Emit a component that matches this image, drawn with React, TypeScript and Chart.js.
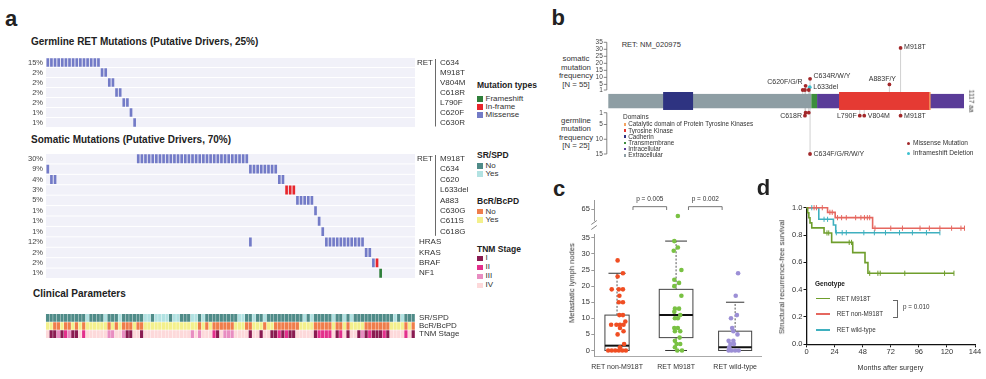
import React, { useEffect, useRef } from "react";
import { Chart, registerables } from "chart.js";

Chart.register(...registerables);
const FONT = "'Liberation Sans', Arial, Helvetica, sans-serif";
Chart.defaults.font.family = FONT;
Chart.defaults.color = "#333";

/* ===================== Panel a : oncoprint data ===================== */
const sampleIds: string[] = Array.from({ length: 102 }, (_, i) => `P${i + 1}`);

const germlineGenes = ["RET", "", "", "", "", "", ""];
const germlineMutations = ["C634", "M918T", "V804M", "C618R", "L790F", "C620F", "C630R"];
const germlineFrequency = ["15%", "2%", "2%", "2%", "2%", "1%", "1%"];
const germlineSamples = [
  [0, 1, 2, 3, 4, 5, 6, 7, 8, 9, 10, 11, 12, 13, 14],
  [15, 16],
  [17, 18],
  [19, 20],
  [21, 22],
  [23],
  [24],
];
const germlineRowType = ["Missense", "Missense", "Missense", "Missense", "Missense", "Missense", "Missense"];

const somaticGenes = ["RET", "", "", "", "", "", "", "", "HRAS", "KRAS", "BRAF", "NF1"];
const somaticMutations = ["M918T", "C634", "C620", "L633del", "A883", "C630G", "C611S", "C618G", "", "", "", ""];
const somaticFrequency = ["30%", "9%", "4%", "3%", "5%", "1%", "1%", "1%", "12%", "2%", "2%", "1%"];
const somaticSamples = [
  [25, 26, 27, 28, 29, 30, 31, 32, 33, 34, 35, 36, 37, 38, 39, 40, 41, 42, 43, 44, 45, 46, 47, 48, 49, 50, 51, 52, 53, 54, 55],
  [0, 56, 57, 58, 59, 60, 61, 62, 63],
  [1, 2, 64, 65],
  [66, 67, 68],
  [69, 70, 71, 72, 73],
  [74],
  [75],
  [76],
  [56, 77, 78, 79, 80, 81, 82, 83, 84, 85, 86, 87],
  [88, 89],
  [90, 91],
  [92],
];
const somaticRowType = ["Missense", "Missense", "Missense", "In-frame", "Missense", "Missense", "Missense", "Missense", "Missense", "Missense", "Missense", "Frameshift"];
const somaticTypeOverrides = [{ row: 10, sample: 91, type: "In-frame" }];

const clinicalTracks = ["SR/SPD", "BcR/BcPD", "TNM Stage"];
const N = "No", Y = "Yes";
const srSpd = [
  N, N, N, N, N, N, N, N, N, N,
  N, Y, N, N, N, N, Y, N, N, N,
  Y, N, N, N, N, N, N, Y, Y, N,
  Y, Y, Y, Y, N, Y, Y, N, N, N,
  Y, Y, N, Y, N, N, N, N, N, N,
  N, N, N, Y, Y, N, N, Y, N, N,
  Y, N, N, N, N, N, N, N, N, N,
  N, Y, N, Y, N, N, N, N, N, Y,
  N, N, Y, N, Y, N, N, N, N, N,
  N, N, N, N, N, N, Y, N, Y, N,
  N, N,
];
const bcrBcpd = [
  Y, Y, N, N, Y, N, N, Y, N, Y,
  N, Y, Y, Y, Y, Y, Y, N, Y, N,
  Y, N, N, N, Y, N, N, Y, Y, Y,
  Y, Y, Y, Y, Y, Y, Y, Y, Y, Y,
  Y, Y, N, Y, N, Y, N, N, N, N,
  N, N, Y, Y, Y, N, N, Y, Y, Y,
  N, Y, Y, N, N, N, N, N, N, N,
  Y, Y, Y, Y, N, N, N, N, N, Y,
  N, N, Y, N, Y, Y, Y, Y, N, N,
  N, N, N, N, N, Y, Y, Y, Y, N,
  Y, N,
];
const tnmStage = [
  "IV", "I", "I", "III", "I", "II", "III", "I", "I", "IV",
  "II", "IV", "IV", "IV", "IV", "IV", "IV", "III", "III", "IV",
  "IV", "III", "I", "I", "IV", "IV", "I", "IV", "IV", "IV",
  "IV", "IV", "IV", "IV", "IV", "IV", "IV", "IV", "IV", "IV",
  "III", "IV", "III", "IV", "IV", "IV", "II", "I", "IV", "III",
  "III", "III", "IV", "IV", "IV", "IV", "I", "IV", "IV", "I",
  "IV", "IV", "I", "I", "II", "I", "II", "I", "I", "IV",
  "IV", "IV", "IV", "IV", "I", "II", "II", "II", "II", "IV",
  "I", "II", "IV", "I", "IV", "IV", "I", "III", "I", "II",
  "I", "I", "I", "II", "I", "IV", "IV", "IV", "IV", "II",
  "IV", "I",
];

/* ===================== Panel b : lollipop data ===================== */
const retLength = 1117;
const domainNames = ["Extracellular", "Intracellular", "Transmembrane", "Cadherin", "Tyrosine Kinase", "Catalytic domain of Protein Tyrosine Kinases"];
const domainStart = [1, 656, 638, 173, 725, 1008];
const domainEnd = [638, 1117, 656, 267, 1011, 1012];
const somaticPos = [918, 883, 634, 633, 620, 611, 618, 630];
const somaticCount = [31, 5, 9, 3, 4, 1, 1, 1];
const somaticLabel = ["M918T", "A883F/Y", "C634R/W/Y", "L633del", "C620F/G/R", "", "", ""];
const somaticKind = ["Missense", "Missense", "Missense", "Inframeshift", "Missense", "Missense", "Missense", "Missense"];
const germlinePos = [634, 618, 620, 630, 790, 804, 918];
const germlineCount = [15, 2, 1, 1, 2, 2, 2];
const germlineLabel = ["C634F/G/R/W/Y", "C618R", "", "", "L790F", "V804M", "M918T"];
const somaticTicks = [1, 5, 10, 15, 20, 25, 30, 35];
const germlineTicks = [1, 5, 10, 15];

/* ===================== Panel c : box plot data ===================== */
const cGroups = ["RET non-M918T", "RET M918T", "RET wild-type"];
const cQ1 = [0, 4, 0];
const cMedian = [1.5, 11, 1];
const cQ3 = [11, 19, 6];
const cLow = [0, 0, 0];
const cHigh = [24, 34, 15];
const nonM918TNodes = [28, 24, 23, 19, 19, 19, 17, 15, 15, 11, 11, 9, 8, 8, 8, 8, 7, 6, 5, 2, 1, 0, 0, 0, 0, 0, 0];
const nonM918TJitter = [0.01, 0.1, 0.01, -0.09, 0.03, 0.1, 0.04, 0.03, 0.1, 0.04, 0.1, 0.14, -0.01, -0.1, 0.05, 0.11, 0.05, 0.11, 0.01, 0.12, 0.05, -0.15, -0.09, -0.03, 0.03, 0.09, 0.15];
const m918TNodes = [63, 34, 32, 31, 25, 22, 21, 20, 17, 13, 13, 12, 11, 10, 10, 7, 7, 6, 6, 4, 3, 2, 2, 1, 0, 0];
const m918TJitter = [0.03, -0.03, 0.03, -0.04, 0.09, -0.03, 0.05, -0.03, 0.09, -0.02, 0.05, -0.03, 0.07, -0.02, 0.03, -0.03, 0.03, -0.02, 0.07, 0.06, -0.02, 0.01, 0.07, -0.02, 0.02, 0.1];
const wildNodes = [24, 17, 11, 10, 7, 6, 5, 3, 3, 2, 2, 1, 0, 0, 0, 0];
const wildJitter = [0.05, 0.01, 0.03, -0.07, -0.05, -0.03, 0.04, -0.11, -0.03, -0.08, -0.02, -0.1, -0.11, -0.06, 0.0, 0.06];
const cTicks = [0, 5, 10, 15, 20, 25, 30, 35];
const cUpperTicks = [65];
const pBrackets = [
  { from: 0.27, to: 0.84, text: "p = 0.005" },
  { from: 1.21, to: 1.78, text: "p = 0.002" },
];

/* ===================== Panel d : Kaplan-Meier data ===================== */
const kmM918TTime = [0, 1, 2, 3, 4.5, 15, 21.5, 39.5, 50, 52.5, 126];
const kmM918TSurv = [1, 0.963, 0.926, 0.889, 0.852, 0.815, 0.746, 0.671, 0.598, 0.52, 0.52];
const kmM918TCensor = [17.5, 19, 36.5, 38.5, 54, 61, 63, 84, 118, 126];
const kmNonTime = [0, 18, 24.5, 56.5, 135];
const kmNonSurv = [1, 0.966, 0.927, 0.85, 0.85];
const kmNonCensor = [6.5, 8.5, 13.5, 20, 22, 26.5, 30, 34, 42, 46.5, 49.5, 52, 54, 58.5, 72, 82, 97, 105, 114, 124, 132, 135];
const kmWildTime = [0, 10.5, 23, 25, 114];
const kmWildSurv = [1, 0.915, 0.873, 0.817, 0.817];
const kmWildCensor = [4.5, 15, 18, 25.5, 30.5, 34, 49, 58, 67.5, 79.5, 90.5, 102.5, 114];
const kmXTicks = [0, 24, 48, 72, 96, 120, 144];
const kmYTicks = [0, 0.2, 0.4, 0.6, 0.8, 1.0];

/* ===================== styles ===================== */
const MUT_COLOR: any = { Frameshift: "#2f7f3a", "In-frame": "#e8262c", Missense: "#737bc7" };
const SR_COLOR: any = { No: "#4f8b88", Yes: "#b2e2e2" };
const BCR_COLOR: any = { No: "#ef7d4b", Yes: "#f3f08c" };
const TNM_COLOR: any = { I: "#8a1b51", II: "#e3308c", III: "#e88dc1", IV: "#fdd9da" };
const DOMAIN_COLOR: any = {
  Extracellular: "#8e9ea4",
  Intracellular: "#5a3c98",
  Transmembrane: "#3c8d3c",
  Cadherin: "#2e3381",
  "Tyrosine Kinase": "#e53a33",
  "Catalytic domain of Protein Tyrosine Kinases": "#f4a460",
};
const DOMAIN_TALL: any = { Cadherin: true, "Tyrosine Kinase": true, "Catalytic domain of Protein Tyrosine Kinases": true };
const LOLLI_COLOR: any = { Missense: "#a3282a", Inframeshift: "#3cc0cf" };
const C_COLORS = ["#f04e23", "#79c143", "#9c8fd6"];
const KM_COLORS = ["#6f9e2c", "#e5675f", "#3fb0bf"];

/* ===================== chart configs ===================== */
function oncoprintConfig(o: any) {
  const n = o.samples.length;
  return {
    type: "bar",
    data: {
      labels: sampleIds,
      datasets: o.samples.map((cols: number[], r: number) => ({
        data: cols.map((c: number) => {
          const ov = (o.overrides || []).find((q: any) => q.row === r && q.sample === c);
          return { x: sampleIds[c], y: [r + 0.07, r + 0.93], t: ov ? ov.type : o.types[r] };
        }),
        backgroundColor: (ctx: any) => MUT_COLOR[ctx.raw ? ctx.raw.t : "Missense"],
        borderWidth: 0,
        grouped: false,
        barPercentage: 0.74,
        categoryPercentage: 1,
      })),
    },
    options: {
      responsive: false,
      animation: false,
      layout: { padding: { left: 0, right: 55, top: o.padTop, bottom: o.padBottom } },
      plugins: { legend: { display: false }, tooltip: { enabled: false } },
      scales: {
        x: { type: "category", display: false, offset: true },
        y: {
          type: "linear",
          min: 0,
          max: n,
          reverse: true,
          afterBuildTicks: (ax: any) => {
            ax.ticks = o.pct.map((_: any, i: number) => ({ value: i + 0.5 }));
          },
          afterFit: (ax: any) => {
            ax.width = 46;
          },
          ticks: { callback: (_v: any, i: number) => o.pct[i], font: { size: 7.5 }, color: "#444", padding: 3, autoSkip: false },
          grid: { display: false, drawTicks: false },
          border: { display: false },
        },
      },
    },
    plugins: [
      {
        id: "rowbg",
        beforeDatasetsDraw(chart: any) {
          const { ctx, chartArea: a, scales } = chart;
          const y = scales.y;
          ctx.save();
          ctx.fillStyle = "#f1f1f9";
          for (let r = 0; r < n; r++) {
            const t = y.getPixelForValue(r);
            const b = y.getPixelForValue(r + 1);
            ctx.fillRect(a.left, t + 0.5, a.right - a.left, b - t - 1);
          }
          ctx.restore();
        },
        afterDraw(chart: any) {
          const { ctx, chartArea: a, scales } = chart;
          const y = scales.y;
          ctx.save();
          ctx.font = `8px ${FONT}`;
          ctx.fillStyle = "#333";
          ctx.textBaseline = "middle";
          for (let r = 0; r < n; r++) {
            const yc = y.getPixelForValue(r + 0.5);
            if (o.muts[r]) {
              if (o.genes[r]) ctx.fillText(o.genes[r], a.right + 2, yc);
              ctx.fillText(o.muts[r], a.right + 25, yc);
            } else if (o.genes[r]) {
              ctx.fillText(o.genes[r], a.right + 4, yc);
            }
          }
          ctx.strokeStyle = "#444";
          ctx.lineWidth = 0.8;
          ctx.beginPath();
          ctx.moveTo(a.right + 20.5, y.getPixelForValue(0) + 1.5);
          ctx.lineTo(a.right + 20.5, y.getPixelForValue(o.barRows) - 1);
          ctx.stroke();
          ctx.restore();
        },
      },
    ],
  };
}

function clinicalConfig() {
  const rows = [srSpd.map((v) => SR_COLOR[v]), bcrBcpd.map((v) => BCR_COLOR[v]), tnmStage.map((v) => TNM_COLOR[v])];
  return {
    type: "bar",
    data: {
      labels: sampleIds,
      datasets: rows.map((colors, r) => ({
        data: colors.map(() => [r + 0.03, r + 0.97]),
        backgroundColor: colors,
        borderWidth: 0,
        grouped: false,
        barPercentage: 0.9,
        categoryPercentage: 1,
      })),
    },
    options: {
      responsive: false,
      animation: false,
      layout: { padding: { left: 45.7, right: 0, top: 6.5, bottom: 6 } },
      plugins: { legend: { display: false }, tooltip: { enabled: false } },
      scales: {
        x: { type: "category", display: false, offset: true },
        y: {
          type: "linear",
          position: "right",
          min: 0,
          max: 3,
          reverse: true,
          afterBuildTicks: (ax: any) => {
            ax.ticks = clinicalTracks.map((_, i) => ({ value: i + 0.5 }));
          },
          afterFit: (ax: any) => {
            ax.width = 55;
          },
          ticks: { callback: (_v: any, i: number) => clinicalTracks[i], font: { size: 8 }, color: "#333", padding: 4, autoSkip: false },
          grid: { display: false, drawTicks: false },
          border: { display: false },
        },
      },
    },
  };
}

function lollipopConfig() {
  return {
    type: "scatter",
    data: {
      datasets: [
        {
          data: somaticPos.map((p, i) => ({ x: p, y: somaticCount[i], k: somaticKind[i] })),
          yAxisID: "yS",
          pointRadius: 1.9,
          pointBackgroundColor: (ctx: any) => LOLLI_COLOR[ctx.raw ? ctx.raw.k : "Missense"],
          pointBorderWidth: 0,
          clip: false,
        },
        {
          data: germlinePos.map((p, i) => ({ x: p, y: germlineCount[i] })),
          yAxisID: "yG",
          pointRadius: 1.9,
          pointBackgroundColor: LOLLI_COLOR.Missense,
          pointBorderWidth: 0,
          clip: false,
        },
      ],
    },
    options: {
      responsive: false,
      animation: false,
      layout: { padding: { left: 68.3, right: 22, top: 6.7, bottom: 11 } },
      plugins: { legend: { display: false }, tooltip: { enabled: false } },
      scales: {
        x: { type: "linear", min: 1, max: retLength, display: false },
        y: { display: false },
        yS: { type: "linear", min: -44.6, max: 35.42, display: false },
        yG: { type: "linear", min: -23.08, max: 15, reverse: true, display: false },
      },
    },
    plugins: [
      {
        id: "protein",
        beforeDatasetsDraw(chart: any) {
          const { ctx, scales } = chart;
          const { x, yS, yG } = scales;
          const top0 = yS.getPixelForValue(0);
          const bot0 = yG.getPixelForValue(0);
          ctx.save();
          ctx.strokeStyle = "#c4c4c4";
          ctx.lineWidth = 0.8;
          somaticPos.forEach((p, i) => {
            const px = x.getPixelForValue(p);
            ctx.beginPath();
            ctx.moveTo(px, yS.getPixelForValue(somaticCount[i]));
            ctx.lineTo(px, top0 + 4);
            ctx.stroke();
          });
          germlinePos.forEach((p, i) => {
            const px = x.getPixelForValue(p);
            ctx.beginPath();
            ctx.moveTo(px, bot0 - 4);
            ctx.lineTo(px, yG.getPixelForValue(germlineCount[i]));
            ctx.stroke();
          });
          const bandTop = top0 + 2.5, bandBot = bot0 - 1.5, tallTop = top0 + 0.6, tallBot = bot0 + 0.2;
          domainNames.forEach((d, i) => {
            const x0 = x.getPixelForValue(domainStart[i]);
            const x1 = x.getPixelForValue(domainEnd[i]);
            ctx.fillStyle = DOMAIN_COLOR[d];
            const t = DOMAIN_TALL[d] ? tallTop : bandTop;
            const b = DOMAIN_TALL[d] ? tallBot : bandBot;
            ctx.fillRect(x0, t, Math.max(x1 - x0, 1), b - t);
          });
          ctx.restore();
        },
        afterDraw(chart: any) {
          const { ctx, chartArea: a, scales } = chart;
          const { x, yS, yG } = scales;
          ctx.save();
          const ax = a.left - 1.5;
          ctx.strokeStyle = "#666";
          ctx.lineWidth = 0.8;
          ctx.font = `6.5px ${FONT}`;
          ctx.fillStyle = "#444";
          ctx.textBaseline = "middle";
          ctx.textAlign = "right";
          const axis = (sc: any, ticks: number[]) => {
            ctx.beginPath();
            ctx.moveTo(ax, sc.getPixelForValue(ticks[0]));
            ctx.lineTo(ax, sc.getPixelForValue(ticks[ticks.length - 1]));
            ctx.stroke();
            ticks.forEach((t) => {
              const py = sc.getPixelForValue(t);
              ctx.beginPath();
              ctx.moveTo(ax - 3, py);
              ctx.lineTo(ax, py);
              ctx.stroke();
              ctx.fillText(String(t), ax - 4, py);
            });
          };
          axis(yS, somaticTicks);
          axis(yG, germlineTicks);
          ctx.font = `7px ${FONT}`;
          ctx.fillStyle = "#333";
          const place = (px: number, py: number, label: string, side: string, dy: number) => {
            if (!label) return;
            if (side === "right") { ctx.textAlign = "left"; ctx.fillText(label, px + 3.5, py + dy); }
            else if (side === "left") { ctx.textAlign = "right"; ctx.fillText(label, px - 3, py + dy); }
            else { ctx.textAlign = "center"; ctx.fillText(label, px - 7, py + dy); }
          };
          const somSide = ["right", "above", "right", "right", "left", "", "", ""];
          const somDy = [-1, -5.5, -3, 0, -4, 0, 0, 0];
          somaticPos.forEach((p, i) => place(x.getPixelForValue(p), yS.getPixelForValue(somaticCount[i]), somaticLabel[i], somSide[i], somDy[i]));
          const gerSide = ["right", "left", "", "", "left", "right", "right"];
          germlinePos.forEach((p, i) => place(x.getPixelForValue(p), yG.getPixelForValue(germlineCount[i]), germlineLabel[i], gerSide[i], 0));
          ctx.restore();
        },
      },
    ],
  };
}

function groupPoints(g: number, values: number[], jitter: number[], keep: (v: number) => boolean) {
  const out: any[] = [];
  values.forEach((v, i) => {
    if (keep(v)) out.push({ x: g + jitter[i], y: v });
  });
  return out;
}

const C_X_MIN = -0.385;
const C_X_MAX = 2.45;

function boxLowerConfig() {
  const keep = (v: number) => v <= 40;
  const groups = [
    groupPoints(0, nonM918TNodes, nonM918TJitter, keep),
    groupPoints(1, m918TNodes, m918TJitter, keep),
    groupPoints(2, wildNodes, wildJitter, keep),
  ];
  return {
    type: "scatter",
    data: {
      datasets: groups.map((d, g) => ({ data: d, pointRadius: 2.3, pointBackgroundColor: C_COLORS[g], pointBorderWidth: 0, clip: false })),
    },
    options: {
      responsive: false,
      animation: false,
      layout: { padding: { left: 0, right: 8.3, top: 2, bottom: 0 } },
      plugins: { legend: { display: false }, tooltip: { enabled: false } },
      scales: {
        x: {
          type: "linear",
          min: C_X_MIN,
          max: C_X_MAX,
          afterBuildTicks: (ax: any) => {
            ax.ticks = cGroups.map((_, i) => ({ value: i }));
          },
          afterFit: (ax: any) => {
            ax.height = 22.3;
          },
          ticks: { callback: (_v: any, i: number) => cGroups[i], font: { size: 7 }, color: "#333", padding: 6, maxRotation: 0, autoSkip: false },
          grid: { display: false, drawTicks: false },
          border: { display: true, color: "#aaa", width: 1 },
        },
        y: {
          type: "linear",
          min: -1.93,
          max: 36.2,
          afterBuildTicks: (ax: any) => {
            ax.ticks = cTicks.map((v) => ({ value: v }));
          },
          afterFit: (ax: any) => {
            ax.width = 54.3;
          },
          ticks: { font: { size: 7.5 }, color: "#333", padding: 1.5, autoSkip: false },
          grid: { display: true, drawOnChartArea: false, drawTicks: true, tickLength: 3, color: "#999" },
          border: { display: true, color: "#999", width: 1 },
        },
      },
    },
    plugins: [
      {
        id: "boxes",
        beforeDatasetsDraw(chart: any) {
          const { ctx, scales } = chart;
          const { x, y } = scales;
          const boxW = [0.41, 0.57, 0.56];
          const capW = [0.29, 0.37, 0.31];
          ctx.save();
          cGroups.forEach((_, g) => {
            const cx = x.getPixelForValue(g);
            const hw = x.getPixelForValue(g + boxW[g] / 2) - cx;
            const cw = x.getPixelForValue(g + capW[g] / 2) - cx;
            const yq1 = y.getPixelForValue(cQ1[g]);
            const yq3 = y.getPixelForValue(cQ3[g]);
            const yhi = y.getPixelForValue(cHigh[g]);
            const ylo = y.getPixelForValue(cLow[g]);
            ctx.strokeStyle = "#555";
            ctx.lineWidth = 1;
            ctx.setLineDash([2, 1.6]);
            ctx.beginPath();
            ctx.moveTo(cx, yq3);
            ctx.lineTo(cx, yhi);
            if (cQ1[g] > cLow[g]) {
              ctx.moveTo(cx, yq1);
              ctx.lineTo(cx, ylo);
            }
            ctx.stroke();
            ctx.setLineDash([]);
            ctx.strokeStyle = "#333";
            ctx.beginPath();
            ctx.moveTo(cx - cw, yhi);
            ctx.lineTo(cx + cw, yhi);
            if (cQ1[g] > cLow[g]) {
              ctx.moveTo(cx - cw, ylo);
              ctx.lineTo(cx + cw, ylo);
            }
            ctx.stroke();
            ctx.strokeStyle = "#444";
            ctx.strokeRect(cx - hw, yq3, 2 * hw, yq1 - yq3);
            ctx.strokeStyle = "#111";
            ctx.lineWidth = 2;
            ctx.beginPath();
            const ym = y.getPixelForValue(cMedian[g]);
            ctx.moveTo(cx - hw, ym);
            ctx.lineTo(cx + hw, ym);
            ctx.stroke();
          });
          ctx.restore();
        },
      },
    ],
  };
}

function boxUpperConfig() {
  const keep = (v: number) => v > 40;
  return {
    type: "scatter",
    data: {
      datasets: [{ data: groupPoints(1, m918TNodes, m918TJitter, keep), pointRadius: 2.3, pointBackgroundColor: C_COLORS[1], pointBorderWidth: 0, clip: false }],
    },
    options: {
      responsive: false,
      animation: false,
      layout: { padding: { left: 0, right: 8.3, top: 10, bottom: 10 } },
      plugins: { legend: { display: false }, tooltip: { enabled: false } },
      scales: {
        x: { type: "linear", min: C_X_MIN, max: C_X_MAX, display: false },
        y: {
          type: "linear",
          min: 61.8,
          max: 67.8,
          afterBuildTicks: (ax: any) => {
            ax.ticks = cUpperTicks.map((v) => ({ value: v }));
          },
          afterFit: (ax: any) => {
            ax.width = 54.3;
          },
          ticks: { font: { size: 7.5 }, color: "#333", padding: 1.5 },
          grid: { display: true, drawOnChartArea: false, drawTicks: true, tickLength: 3, color: "#999" },
          border: { display: true, color: "#999", width: 1 },
        },
      },
    },
    plugins: [
      {
        id: "brackets",
        afterDraw(chart: any) {
          const { ctx, chartArea: a, scales } = chart;
          const { x, y } = scales;
          ctx.save();
          ctx.strokeStyle = "#555";
          ctx.lineWidth = 0.8;
          ctx.font = `6.5px ${FONT}`;
          ctx.fillStyle = "#333";
          ctx.textAlign = "center";
          ctx.textBaseline = "middle";
          pBrackets.forEach((b) => {
            const x0 = x.getPixelForValue(b.from);
            const x1 = x.getPixelForValue(b.to);
            const yt = y.getPixelForValue(65.8);
            const yb = y.getPixelForValue(64.8);
            ctx.beginPath();
            ctx.moveTo(x0, yb);
            ctx.lineTo(x0, yt);
            ctx.lineTo(x1, yt);
            ctx.lineTo(x1, yb);
            ctx.stroke();
            ctx.fillText(b.text, (x0 + x1) / 2, yt - 7.5);
          });
          // axis break marks
          ctx.strokeStyle = "#777";
          ctx.lineWidth = 0.9;
          const L = a.left;
          const B = a.bottom;
          ctx.beginPath();
          ctx.moveTo(L - 3, B + 4.5);
          ctx.lineTo(L + 2.5, B + 0.5);
          ctx.moveTo(L - 3, B + 9.5);
          ctx.lineTo(L + 2.5, B + 5.5);
          ctx.stroke();
          ctx.restore();
        },
      },
    ],
  };
}

function survAt(times: number[], surv: number[], t: number) {
  let s = surv[0];
  for (let i = 0; i < times.length; i++) if (times[i] <= t) s = surv[i];
  return s;
}

function kmConfig() {
  const curves = [
    { t: kmM918TTime, s: kmM918TSurv, c: kmM918TCensor },
    { t: kmNonTime, s: kmNonSurv, c: kmNonCensor },
    { t: kmWildTime, s: kmWildSurv, c: kmWildCensor },
  ];
  const lines = curves.map((cv, i) => ({
    type: "line",
    data: cv.t.map((t, k) => ({ x: t, y: cv.s[k] })),
    borderColor: KM_COLORS[i],
    borderWidth: 1.6,
    stepped: true,
    pointRadius: 0,
    fill: false,
    clip: 4,
  }));
  const censors = curves.map((cv, i) => ({
    type: "scatter",
    data: cv.c.map((t) => ({ x: t, y: survAt(cv.t, cv.s, t) })),
    pointStyle: "line",
    rotation: 90,
    pointRadius: 2.6,
    pointBorderColor: KM_COLORS[i],
    pointBorderWidth: 1,
    borderColor: KM_COLORS[i],
    clip: false,
  }));
  return {
    type: "line",
    data: { datasets: [...censors, ...lines] },
    options: {
      responsive: false,
      animation: false,
      layout: { padding: { left: 0, right: 11, top: 12.7, bottom: 0 } },
      plugins: { legend: { display: false }, tooltip: { enabled: false } },
      scales: {
        x: {
          type: "linear",
          min: 0,
          max: 144,
          afterBuildTicks: (ax: any) => {
            ax.ticks = kmXTicks.map((v) => ({ value: v }));
          },
          afterFit: (ax: any) => {
            ax.height = 34.7;
          },
          ticks: { font: { size: 7.5 }, color: "#333", padding: 0.5, maxRotation: 0, autoSkip: false },
          grid: { display: true, drawOnChartArea: false, drawTicks: true, tickLength: 3, color: "#111", lineWidth: 1 },
          border: { display: true, color: "#111", width: 1.3 },
        },
        y: {
          type: "linear",
          min: 0,
          max: 1,
          afterBuildTicks: (ax: any) => {
            ax.ticks = kmYTicks.map((v) => ({ value: v }));
          },
          afterFit: (ax: any) => {
            ax.width = 46.5;
          },
          ticks: { callback: (v: any) => Number(v).toFixed(1), font: { size: 7.5 }, color: "#333", padding: 1, autoSkip: false },
          grid: { display: true, drawOnChartArea: false, drawTicks: true, tickLength: 3, color: "#111", lineWidth: 1 },
          border: { display: true, color: "#111", width: 1.3 },
        },
      },
    },
  };
}

/* ===================== components ===================== */
function ChartCanvas({ x, y, w, h, make }: any) {
  const ref = useRef<HTMLCanvasElement>(null);
  useEffect(() => {
    const chart = new Chart(ref.current as HTMLCanvasElement, make());
    return () => chart.destroy();
  }, []);
  return <canvas ref={ref} width={w} height={h} style={{ position: "absolute", left: x, top: y, width: w, height: h }} />;
}

function T({ x, y, s = 8, b = false, c = "#333", a = "left", r = 0, children }: any) {
  const tx = a === "left" ? "0" : a === "center" ? "-50%" : "-100%";
  return (
    <div
      style={{
        position: "absolute",
        left: x,
        top: y,
        fontSize: s,
        fontWeight: b ? "bold" : "normal",
        color: c,
        whiteSpace: "nowrap",
        lineHeight: 1,
        transform: `translate(${tx}, -50%)${r ? ` rotate(${r}deg)` : ""}`,
      }}
    >
      {children}
    </div>
  );
}

function Sw({ x, y, s, c, round = false }: any) {
  return <div style={{ position: "absolute", left: x, top: y - s / 2, width: s, height: s, background: c, borderRadius: round ? "50%" : 0 }} />;
}

export default function App() {
  useEffect(() => {
    document.body.style.margin = "0";
  }, []);
  return (
    <div style={{ position: "fixed", left: 0, top: 0, width: 986, height: 379, background: "#fff", fontFamily: FONT, overflow: "hidden" }}>
      {/* ---------- panel a ---------- */}
      <T x={5} y={19.2} s={22} b c="#222">a</T>
      <T x={31} y={41.7} s={10} b c="#222">Germline RET Mutations (Putative Drivers, 25%)</T>
      <T x={31} y={139.5} s={10} b c="#222">Somatic Mutations (Putative Drivers, 70%)</T>
      <T x={33} y={294} s={10} b c="#222">Clinical Parameters</T>
      <ChartCanvas
        x={0}
        y={50}
        w={470}
        h={85}
        make={() =>
          oncoprintConfig({ samples: germlineSamples, types: germlineRowType, pct: germlineFrequency, genes: germlineGenes, muts: germlineMutations, barRows: 7, padTop: 5, padBottom: 5.7 })
        }
      />
      <ChartCanvas
        x={0}
        y={146}
        w={470}
        h={140}
        make={() =>
          oncoprintConfig({
            samples: somaticSamples,
            types: somaticRowType,
            overrides: somaticTypeOverrides,
            pct: somaticFrequency,
            genes: somaticGenes,
            muts: somaticMutations,
            barRows: 8,
            padTop: 5,
            padBottom: 6.7,
          })
        }
      />
      <ChartCanvas x={0} y={305} w={470} h={42} make={clinicalConfig} />

      <T x={477} y={85} s={8.5} b c="#222">Mutation types</T>
      {["Frameshift", "In-frame", "Missense"].map((m, i) => (
        <React.Fragment key={m}>
          <Sw x={477} y={99 + i * 8} s={5.5} c={MUT_COLOR[m]} />
          <T x={485.5} y={99 + i * 8} s={8}>{m}</T>
        </React.Fragment>
      ))}
      <T x={477} y={155} s={8.5} b c="#222">SR/SPD</T>
      {["No", "Yes"].map((m, i) => (
        <React.Fragment key={"sr" + m}>
          <Sw x={477} y={166 + i * 8} s={5.5} c={SR_COLOR[m]} />
          <T x={485.5} y={166 + i * 8} s={8}>{m}</T>
        </React.Fragment>
      ))}
      <T x={477} y={200.7} s={8.5} b c="#222">BcR/BcPD</T>
      {["No", "Yes"].map((m, i) => (
        <React.Fragment key={"bc" + m}>
          <Sw x={477} y={211.7 + i * 8.3} s={5.5} c={BCR_COLOR[m]} />
          <T x={485.5} y={211.7 + i * 8.3} s={8}>{m}</T>
        </React.Fragment>
      ))}
      <T x={477} y={249} s={8.5} b c="#222">TNM Stage</T>
      {["I", "II", "III", "IV"].map((m, i) => (
        <React.Fragment key={"tnm" + m}>
          <Sw x={477} y={258.3 + i * 9} s={5.5} c={TNM_COLOR[m]} />
          <T x={485.5} y={258.3 + i * 9} s={8}>{m}</T>
        </React.Fragment>
      ))}

      {/* ---------- panel b ---------- */}
      <T x={551.5} y={18.3} s={22} b c="#222">b</T>
      <T x={621.7} y={45} s={7.5}>RET: NM_020975</T>
      {["somatic", "mutation", "frequency", "[N = 55]"].map((t, i) => (
        <T key={"s" + t} x={576} y={59 + i * 8.5} s={7.8} a="center">{t}</T>
      ))}
      {["germline", "mutation", "frequency", "[N = 25]"].map((t, i) => (
        <T key={"g" + t} x={576} y={120.5 + i * 8.5} s={7.8} a="center">{t}</T>
      ))}
      <ChartCanvas x={540} y={35} w={446} h={130} make={lollipopConfig} />
      <T x={970.5} y={101} s={6.5} a="center" r={90}>1117 aa</T>
      <T x={623} y={117.3} s={6.5}>Domains</T>
      {["Catalytic domain of Protein Tyrosine Kinases", "Tyrosine Kinase", "Cadherin", "Transmembrane", "Intracellular", "Extracellular"].map((d, i) => (
        <React.Fragment key={d}>
          <Sw x={623.5} y={124.3 + i * 6.2} s={2.6} c={DOMAIN_COLOR[d]} />
          <T x={628.3} y={124.3 + i * 6.2} s={6.3}>{d}</T>
        </React.Fragment>
      ))}
      <Sw x={906.5} y={143.3} s={3} c={LOLLI_COLOR.Missense} round />
      <T x={913} y={143.3} s={6.6}>Missense Mutation</T>
      <Sw x={906.5} y={153.3} s={3} c={LOLLI_COLOR.Inframeshift} round />
      <T x={913} y={153.3} s={6.6}>Inframeshift Deletion</T>

      {/* ---------- panel c ---------- */}
      <T x={553} y={189} s={22} b c="#222">c</T>
      <ChartCanvas x={540} y={190} w={230} h={40} make={boxUpperConfig} />
      <ChartCanvas x={540} y={228} w={230} h={151} make={boxLowerConfig} />
      <T x={571.7} y={283.3} s={7.6} a="center" r={-90}>Metastatic lymph nodes</T>

      {/* ---------- panel d ---------- */}
      <T x={756.7} y={188.3} s={22} b c="#222">d</T>
      <ChartCanvas x={760} y={195} w={226} h={184} make={kmConfig} />
      <T x={781.7} y={276.7} s={7.6} a="center" r={-90}>Structural recurrence-free survival</T>
      <T x={890.5} y={368.3} s={7.2} a="center">Months after surgery</T>
      <T x={815} y={284.3} s={6.5} b c="#222">Genotype</T>
      {["RET M918T", "RET non-M918T", "RET wild-type"].map((g, i) => (
        <React.Fragment key={g}>
          <div style={{ position: "absolute", left: 816, top: [298.7, 314, 330][i] - 0.8, width: 14, height: 1.6, background: KM_COLORS[i] }} />
          <T x={836.7} y={[298.7, 314, 330][i]} s={6.3}>{g}</T>
        </React.Fragment>
      ))}
      <div style={{ position: "absolute", left: 893, top: 300, width: 4, height: 15.7, borderTop: "0.8px solid #666", borderRight: "0.8px solid #666", borderBottom: "0.8px solid #666" }} />
      <T x={903} y={306.7} s={6.3}>p = 0.010</T>
    </div>
  );
}
